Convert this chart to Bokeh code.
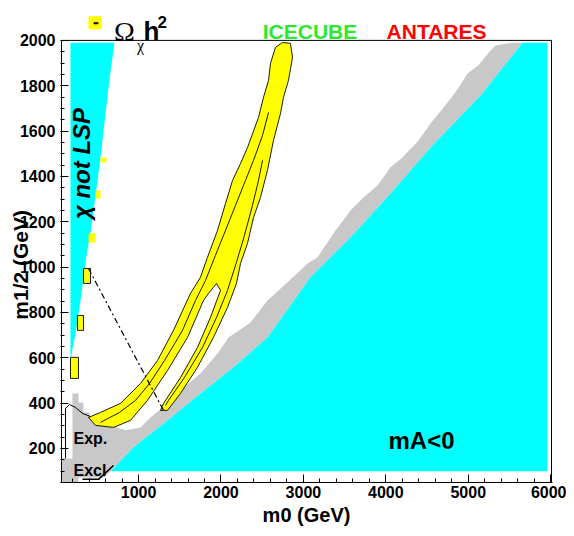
from math import pi
from bokeh.plotting import figure
from bokeh.models import Range1d, FixedTicker, Label
from bokeh.embed import file_html
from bokeh.resources import INLINE

# ---- axis ticks ----
x_major = [1000, 2000, 3000, 4000, 5000, 6000]
x_minor = list(range(200, 6001, 200))
y_major = [200, 400, 600, 800, 1000, 1200, 1400, 1600, 1800, 2000]
y_minor = list(range(50, 2001, 50))

# histogram frame (m0, m1/2 limits)
frame_x = [65, 65, 6010, 6010]
frame_y = [50, 2000, 2000, 50]

# ---- "chi not LSP" excluded wedge (m0, m1/2) ----
lsp_x = [174, 708, 650, 530, 410, 377, 296, 235, 174]
lsp_y = [1990, 1990, 1837, 1457, 1131, 1074, 853, 708, 588]

# ---- mA<0 boundary ----
ma_edge_x = [660, 939, 1351, 1751, 2152, 2564, 3086, 3571, 4057, 4542, 5149, 5658]
ma_edge_y = [100, 205, 324, 443, 558, 690, 955, 1131, 1325, 1528, 1757, 1990]
ma_right = 5960
ma_bottom = 100

# ---- grey staircase (theoretically excluded) ----
gray_step_x = [5537, 5331, 5270, 5124, 4991, 4845, 4700, 4542, 4396, 4202, 4057, 3899, 3729,
               3571, 3389, 3171, 3050, 2807, 2564, 2358, 2091, 1958, 1751, 1545, 1351, 1145, 1024]
gray_step_y = [1990, 1978, 1956, 1890, 1854, 1771, 1704, 1634, 1559, 1484, 1440, 1360, 1307,
               1250, 1162, 1043, 1016, 933, 853, 756, 690, 619, 531, 469, 399, 337, 293]
gray_exp_x = [842, 660, 417, 405, 332, 332, 271, 271, 198, 198, 65, 65, 271, 271, 580]
gray_exp_y = [280, 302, 333, 359, 359, 403, 403, 443, 443, 156, 156, 50, 50, 72, 72]

# ---- relic density band (Omega h^2) ----
band_x = [393, 538, 781, 1024, 1230, 1424, 1630, 1751, 1836, 1958, 2055, 2140, 2237, 2322, 2455,
          2516, 2577, 2601, 2661, 2746, 2843,
          2868, 2819, 2759, 2722, 2637, 2564, 2479, 2395, 2322, 2237, 2188, 2079, 1909, 1715, 1509, 1351,
          1266, 1303, 1509, 1715, 1873, 1994,
          1946,
          1849, 1788, 1594, 1351, 1108, 902, 696, 478]
band_y = [337, 359, 399, 487, 588, 721, 884, 955, 1043, 1162, 1281, 1382, 1457, 1528, 1660,
          1749, 1824, 1899, 1969, 1991, 1987,
          1925, 1824, 1749, 1678, 1559, 1427, 1307, 1219, 1105, 1016, 928, 822, 690, 558, 443, 368,
          368, 399, 513, 646, 778, 897,
          928,
          884, 853, 690, 544, 412, 324, 293, 302]
inner1_x = [538, 769, 963, 1133, 1315, 1533, 1691, 1812, 1933, 2055, 2176, 2297, 2395, 2504, 2577]
inner1_y = [315, 359, 412, 487, 588, 721, 853, 941, 1052, 1162, 1272, 1382, 1471, 1581, 1682]
inner2_x = [1327, 1363, 1557, 1776, 1946, 2079, 2188, 2285, 2382, 2455, 2504]
inner2_y = [390, 412, 513, 646, 778, 897, 1021, 1140, 1272, 1382, 1471]

# small relic-density islands along the LSP border
blob_left = [332, 259, 174, 538, 478, 393]
blob_right = [417, 332, 271, 611, 538, 478]
blob_bottom = [928, 721, 509, 1462, 1303, 1109]
blob_top = [994, 787, 602, 1484, 1338, 1149]

# contour lines
exp_line_x = [114, 114, 162, 235, 320, 417]
exp_line_y = [156, 377, 394, 381, 355, 341]
excl_line_x = [320, 514, 696]
excl_line_y = [64, 64, 125]
dash_x = [393, 1303]
dash_y = [994, 368]

# legend key (top row, above the frame)
key_box = dict(left=393, right=551, bottom=2049, top=2106)
key_dash_x = [455, 512]
key_dash_y = [2076, 2076]

FONT = "Liberation Sans"
NBSP = "\u00a0"

p = figure(width=566, height=532, x_range=Range1d(53, 6022), y_range=Range1d(50, 2176),
           output_backend="svg", toolbar_location=None, title=None,
           min_border_left=60, min_border_right=14, min_border_top=0, min_border_bottom=50)
p.background_fill_color = "white"
p.border_fill_color = "white"
p.xgrid.visible = False
p.ygrid.visible = False
p.outline_line_color = None

p.xaxis.ticker = FixedTicker(ticks=x_major, minor_ticks=x_minor)
p.yaxis.ticker = FixedTicker(ticks=y_major, minor_ticks=y_minor)
for ax in (p.xaxis[0], p.yaxis[0]):
    ax.major_label_text_font = FONT
    ax.major_label_text_font_style = "bold"
    ax.major_label_text_font_size = "16px"
    ax.major_label_text_color = "black"
    ax.major_tick_in = 8
    ax.major_tick_out = 0
    ax.minor_tick_in = 4
    ax.minor_tick_out = 0
    ax.axis_line_color = "black"
    ax.major_tick_line_color = "black"
    ax.minor_tick_line_color = "black"
    ax.axis_label_text_font = FONT
    ax.axis_label_text_font_style = "bold"
    ax.axis_label_text_color = "black"
p.yaxis.axis_line_color = None
p.xaxis.major_label_standoff = 3
p.yaxis.major_label_standoff = 5
p.xaxis.axis_label = "m0 (GeV)"
p.xaxis.axis_label_text_font_size = "20px"
p.xaxis.axis_label_standoff = 3
# trailing no-break spaces centre the visible title on the 50-2000 frame
p.yaxis.axis_label = "m1/2 (GeV)" + NBSP * 8
p.yaxis.axis_label_text_font_size = "21px"
p.yaxis.axis_label_standoff = -15

# grey region
gx = gray_step_x + gray_exp_x + ma_edge_x
gy = gray_step_y + gray_exp_y + ma_edge_y
p.patch(gx, gy, fill_color="#c8c8c8", line_color=None)

# mA<0 region
p.patch(ma_edge_x + [ma_right, ma_right], ma_edge_y + [ma_edge_y[-1], ma_bottom],
        fill_color="#00ffff", line_color=None)
# chi not LSP wedge
p.patch(lsp_x, lsp_y, fill_color="#00ffff", line_color=None)

# relic density band
p.patch(band_x, band_y, fill_color="#ffff00", line_color="black", line_width=0.9)
p.line(inner1_x, inner1_y, line_color="black", line_width=0.9)
p.line(inner2_x, inner2_y, line_color="black", line_width=0.9)
p.quad(left=blob_left[:3], right=blob_right[:3], bottom=blob_bottom[:3], top=blob_top[:3],
       fill_color="#ffff00", line_color="black", line_width=0.9)
p.quad(left=blob_left[3:], right=blob_right[3:], bottom=blob_bottom[3:], top=blob_top[3:],
       fill_color="#ffff00", line_color=None)

p.line(exp_line_x, exp_line_y, line_color="black", line_width=1)
p.line(excl_line_x, excl_line_y, line_color="black", line_width=1.5)
p.line(dash_x, dash_y, line_color="black", line_width=1.2, line_dash="6 3 2 3")

# frame box
p.line(frame_x, frame_y, line_color="black", line_width=1)

# legend key
p.quad(**key_box, fill_color="#ffff00", line_color=None)
p.line(key_dash_x, key_dash_y, line_color="black", line_width=2)


def lab(x, y, text, size, align="left", baseline="alphabetic", style="bold", color="black",
        font=FONT, angle=0):
    p.add_layout(Label(x=x, y=y, text=text, text_font=font, text_font_size=size,
                       text_font_style=style, text_color=color, text_align=align,
                       text_baseline=baseline, angle=angle))

# in-frame texts
lab(308, 1457, "χ not LSP", "24px", align="center", baseline="middle", style="bold italic", angle=pi / 2)
lab(4433, 236, "mA<0", "24px", align="center", baseline="middle")
lab(211, 244, "Exp.", "16px")
lab(211, 103, "Excl", "16px")

# legend row on top
lab(829, 2040, "Ω", "28px", align="center", style="normal", font="Liberation Serif")
lab(1024, 1977, "χ", "16px", align="center", style="normal", font="Liberation Serif")
lab(1060, 2040, "h", "26px")
lab(1230, 2079, "2", "17px")
lab(3080, 2040, "ICECUBE", "21px", align="center", color="#2ee82e")
lab(4615, 2040, "ANTARES", "21px", align="center", color="#ff0000")

open("out.html", "w").write(file_html(p, INLINE))
